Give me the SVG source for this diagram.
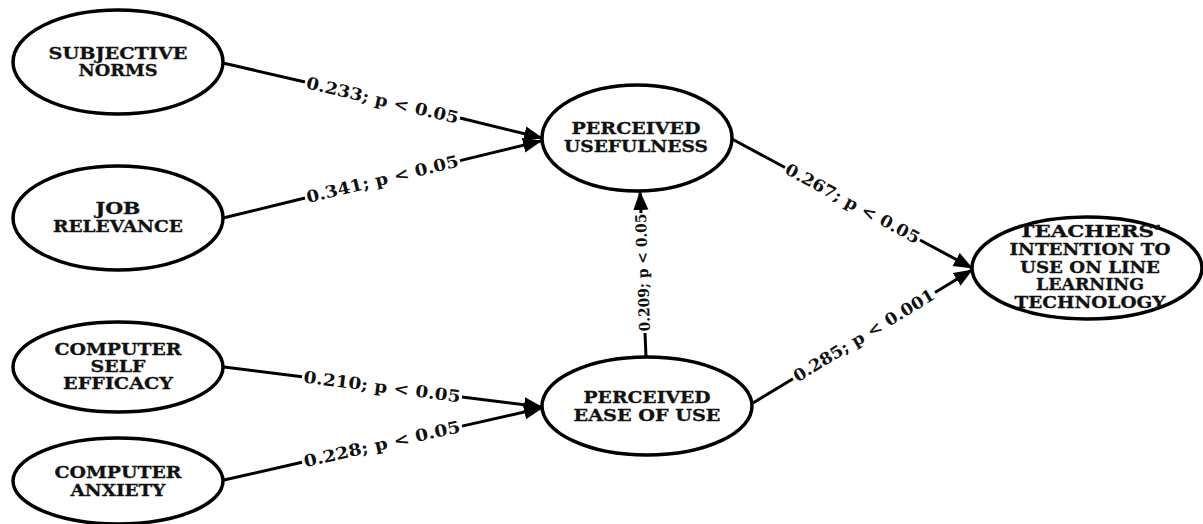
<svg xmlns="http://www.w3.org/2000/svg" width="1203" height="524" viewBox="0 0 1203 524">
<style>
.node ellipse{fill:#fff;stroke:#000;stroke-width:3.5}
.node text{font-family:"DejaVu Serif","Liberation Serif",serif;font-weight:bold;font-size:16.5px;fill:#111;text-anchor:middle;stroke:#111;stroke-width:0.3}
.edge line{stroke:#000;stroke-width:3}
.lbl{font-family:"DejaVu Serif","Liberation Serif",serif;font-weight:bold;font-size:16.5px;fill:#111;text-anchor:middle}
</style>
<defs>
<marker id="arr" markerUnits="userSpaceOnUse" markerWidth="20" markerHeight="16" refX="18" refY="7.5" orient="auto">
<path d="M0,0 L19,7.5 L0,15 z" fill="#000"/>
</marker>
</defs>
<rect width="1203" height="524" fill="#fff"/>
<g id="connectors" class="edge">
<line x1="223" y1="63" x2="305" y2="82"/>
<line x1="460" y1="118" x2="542" y2="138" marker-end="url(#arr)"/>
<text class="lbl" transform="translate(382.5,100.5) rotate(13.2)" dy="5.5" textLength="156" lengthAdjust="spacingAndGlyphs">0.233; p &lt; 0.05</text>
<line x1="223" y1="218" x2="305" y2="198"/>
<line x1="460" y1="160.6" x2="541" y2="141" marker-end="url(#arr)"/>
<text class="lbl" transform="translate(382.5,179.3) rotate(-13.6)" dy="5.5" textLength="156" lengthAdjust="spacingAndGlyphs">0.341; p &lt; 0.05</text>
<line x1="732" y1="139" x2="785" y2="167.5"/>
<line x1="920" y1="240" x2="972" y2="268" marker-end="url(#arr)"/>
<text class="lbl" transform="translate(852.5,203.8) rotate(28.3)" dy="5.5" textLength="150" lengthAdjust="spacingAndGlyphs">0.267; p &lt; 0.05</text>
<line x1="753" y1="403" x2="793" y2="378.7"/>
<line x1="935" y1="292.5" x2="972" y2="270" marker-end="url(#arr)"/>
<text class="lbl" transform="translate(864,335.6) rotate(-31.3)" dy="5.5" textLength="162" lengthAdjust="spacingAndGlyphs">0.285; p &lt; 0.001</text>
<line x1="646" y1="357" x2="645" y2="333"/>
<line x1="641" y1="213" x2="640" y2="192" marker-end="url(#arr)"/>
<text class="lbl" style="font-size:15px" transform="translate(643,272.5) rotate(-92)" dy="5" textLength="118" lengthAdjust="spacingAndGlyphs">0.209; p &lt; 0.05</text>
<line x1="224" y1="367" x2="302" y2="376.8"/>
<line x1="462" y1="396.9" x2="542" y2="407" marker-end="url(#arr)"/>
<text class="lbl" transform="translate(382,386.9) rotate(7.2)" dy="5.5" textLength="158" lengthAdjust="spacingAndGlyphs">0.210; p &lt; 0.05</text>
<line x1="224" y1="480" x2="302" y2="462.3"/>
<line x1="462" y1="426.1" x2="542" y2="408" marker-end="url(#arr)"/>
<text class="lbl" transform="translate(382,444.2) rotate(-12.75)" dy="5.5" textLength="160" lengthAdjust="spacingAndGlyphs">0.228; p &lt; 0.05</text>
</g>
<g id="subjective-norms" class="node">
<ellipse cx="118" cy="62" rx="105" ry="52"/>
<text x="118" y="59" textLength="139" lengthAdjust="spacingAndGlyphs">SUBJECTIVE</text>
<text x="118" y="76" textLength="79" lengthAdjust="spacingAndGlyphs">NORMS</text>
</g>
<g id="job-relevance" class="node">
<ellipse cx="118" cy="218" rx="105" ry="52"/>
<text x="118" y="214" textLength="45" lengthAdjust="spacingAndGlyphs">JOB</text>
<text x="118" y="232" textLength="130" lengthAdjust="spacingAndGlyphs">RELEVANCE</text>
</g>
<g id="computer-self-efficacy" class="node">
<ellipse cx="118" cy="367" rx="105" ry="45"/>
<text x="118" y="355" textLength="127" lengthAdjust="spacingAndGlyphs">COMPUTER</text>
<text x="118" y="372" textLength="55" lengthAdjust="spacingAndGlyphs">SELF</text>
<text x="118" y="389" textLength="110" lengthAdjust="spacingAndGlyphs">EFFICACY</text>
</g>
<g id="computer-anxiety" class="node">
<ellipse cx="118" cy="481" rx="105" ry="43"/>
<text x="118" y="478" textLength="127" lengthAdjust="spacingAndGlyphs">COMPUTER</text>
<text x="118" y="496" textLength="95" lengthAdjust="spacingAndGlyphs">ANXIETY</text>
</g>
<g id="perceived-usefulness" class="node">
<ellipse cx="637" cy="138" rx="95" ry="53"/>
<text x="636" y="134" textLength="129" lengthAdjust="spacingAndGlyphs">PERCEIVED</text>
<text x="636" y="152" textLength="144" lengthAdjust="spacingAndGlyphs">USEFULNESS</text>
</g>
<g id="perceived-ease-of-use" class="node">
<ellipse cx="647" cy="406" rx="105" ry="49"/>
<text x="647" y="403" textLength="127" lengthAdjust="spacingAndGlyphs">PERCEIVED</text>
<text x="647" y="421" textLength="147" lengthAdjust="spacingAndGlyphs">EASE OF USE</text>
</g>
<g id="teachers-intention" class="node">
<ellipse cx="1087" cy="268" rx="115" ry="51"/>
<text x="1090" y="237" textLength="143" lengthAdjust="spacingAndGlyphs">TEACHERS’</text>
<text x="1090" y="255" textLength="161" lengthAdjust="spacingAndGlyphs">INTENTION TO</text>
<text x="1090" y="273" textLength="140" lengthAdjust="spacingAndGlyphs">USE ON LINE</text>
<text x="1090" y="290" textLength="108" lengthAdjust="spacingAndGlyphs">LEARNING</text>
<text x="1090" y="308" textLength="151" lengthAdjust="spacingAndGlyphs">TECHNOLOGY</text>
</g>
</svg>
